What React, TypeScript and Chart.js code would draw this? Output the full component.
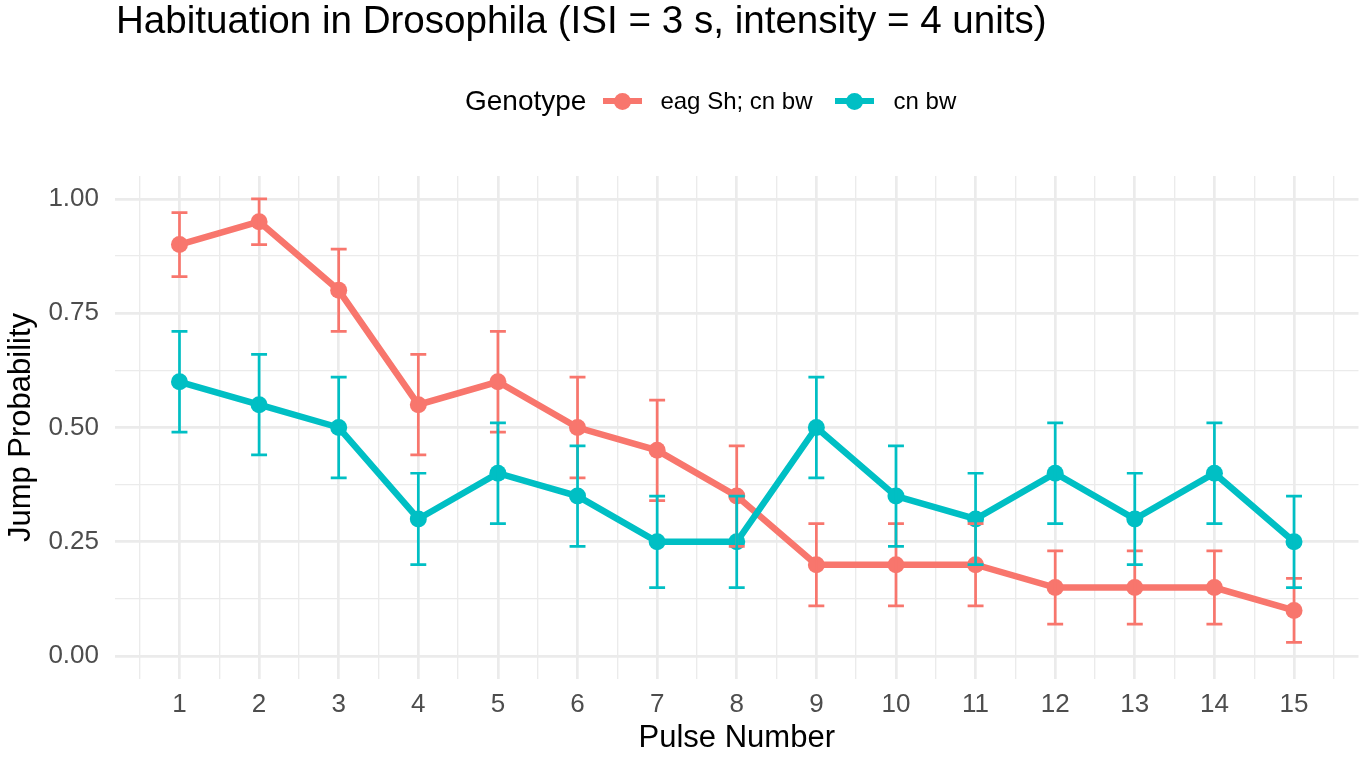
import { useEffect, useRef } from 'react'
import { Chart, ChartConfiguration, registerables } from 'chart.js'

Chart.register(...registerables)

// Data
const pulses = [1, 2, 3, 4, 5, 6, 7, 8, 9, 10, 11, 12, 13, 14, 15]
const genotypes = ['eag Sh; cn bw', 'cn bw']

const eagShMean = [0.90, 0.95, 0.80, 0.55, 0.60, 0.50, 0.45, 0.35, 0.20, 0.20, 0.20, 0.15, 0.15, 0.15, 0.10]
const eagShLower = [0.83, 0.90, 0.71, 0.44, 0.49, 0.39, 0.34, 0.24, 0.11, 0.11, 0.11, 0.07, 0.07, 0.07, 0.03]
const eagShUpper = [0.97, 1.00, 0.89, 0.66, 0.71, 0.61, 0.56, 0.46, 0.29, 0.29, 0.29, 0.23, 0.23, 0.23, 0.17]

const cnBwMean = [0.60, 0.55, 0.50, 0.30, 0.40, 0.35, 0.25, 0.25, 0.50, 0.35, 0.30, 0.40, 0.30, 0.40, 0.25]
const cnBwLower = [0.49, 0.44, 0.39, 0.20, 0.29, 0.24, 0.15, 0.15, 0.39, 0.24, 0.20, 0.29, 0.20, 0.29, 0.15]
const cnBwUpper = [0.71, 0.66, 0.61, 0.40, 0.51, 0.46, 0.35, 0.35, 0.61, 0.46, 0.40, 0.51, 0.40, 0.51, 0.35]

const yTickValues = [0, 0.25, 0.5, 0.75, 1]

const RED = '#F8766D'
const TEAL = '#00BFC4'
const GRID = '#EBEBEB'
const FONT = '"Liberation Sans", Arial, Helvetica, sans-serif'

// major + minor (half-way) grid positions
const xGridValues = [pulses[0] - 0.5, ...pulses.flatMap(p => [p, p + 0.5])]
const yGridValues = [
  ...yTickValues.slice(0, -1).flatMap((v, i) => [v, (v + yTickValues[i + 1]) / 2]),
  yTickValues[yTickValues.length - 1],
]

const errorBarPlugin = {
  id: 'errorBars',
  afterDatasetsDraw(chart: Chart) {
    const { ctx } = chart
    const x = chart.scales.x
    const y = chart.scales.y
    const groups = [
      { lower: eagShLower, upper: eagShUpper, color: RED },
      { lower: cnBwLower, upper: cnBwUpper, color: TEAL },
    ]
    ctx.save()
    ctx.lineWidth = 2.7
    ctx.lineCap = 'butt'
    groups.forEach(g => {
      ctx.strokeStyle = g.color
      pulses.forEach((p, i) => {
        const cx = x.getPixelForValue(p)
        const x0 = x.getPixelForValue(p - 0.1)
        const x1 = x.getPixelForValue(p + 0.1)
        const yl = y.getPixelForValue(g.lower[i])
        const yu = y.getPixelForValue(g.upper[i])
        ctx.beginPath()
        ctx.moveTo(cx, yu)
        ctx.lineTo(cx, yl)
        ctx.moveTo(x0, yu)
        ctx.lineTo(x1, yu)
        ctx.moveTo(x0, yl)
        ctx.lineTo(x1, yl)
        ctx.stroke()
      })
    })
    ctx.restore()
  },
}

function LegendKey({ color }: { color: string }) {
  return (
    <div style={{ position: 'relative', width: 39, height: 17 }}>
      <div style={{ position: 'absolute', left: 0, top: 5.25, width: 39, height: 6.5, background: color }} />
      <div style={{ position: 'absolute', left: 11, top: 0, width: 17, height: 17, borderRadius: '50%', background: color }} />
    </div>
  )
}

export default function App() {
  const canvasRef = useRef<HTMLCanvasElement>(null)
  const chartRef = useRef<Chart | null>(null)

  useEffect(() => {
    if (!canvasRef.current) return
    const ctx = canvasRef.current.getContext('2d')
    if (!ctx) return

    const lineStyle = (color: string) => ({
      borderColor: color,
      backgroundColor: color,
      borderWidth: 6.5,
      tension: 0,
      pointRadius: 8.5,
      pointBorderWidth: 0,
      pointBackgroundColor: color,
      pointBorderColor: color,
      fill: false,
    })

    const config: ChartConfiguration = {
      type: 'line',
      data: {
        datasets: [
          {
            label: genotypes[0],
            data: pulses.map((p, i) => ({ x: p, y: eagShMean[i] })),
            order: 2,
            ...lineStyle(RED),
          },
          {
            label: genotypes[1],
            data: pulses.map((p, i) => ({ x: p, y: cnBwMean[i] })),
            order: 1,
            ...lineStyle(TEAL),
          },
        ],
      },
      options: {
        responsive: true,
        maintainAspectRatio: false,
        animation: false,
        layout: { padding: { top: 176, right: 5, bottom: 0, left: 0 } },
        plugins: {
          legend: { display: false },
          tooltip: { enabled: false },
        },
        scales: {
          x: {
            type: 'linear',
            min: 0.19,
            max: 15.81,
            afterBuildTicks: (scale: any) => {
              scale.ticks = xGridValues.map(v => ({ value: v }))
            },
            afterFit: (scale: any) => {
              scale.height = 78
            },
            grid: {
              color: GRID,
              lineWidth: (c: any) => (Number.isInteger(c.tick?.value) ? 2.7 : 1.35),
              drawTicks: false,
            },
            border: { display: false },
            ticks: {
              autoSkip: false,
              maxRotation: 0,
              padding: 5,
              color: '#4D4D4D',
              font: { family: FONT, size: 26, lineHeight: 1.585 },
              callback: (v: any) => (Number.isInteger(v) ? String(v) : ''),
            },
            title: {
              display: true,
              text: 'Pulse Number',
              color: '#000000',
              font: { family: FONT, size: 31 },
              padding: { top: 0, bottom: 0 },
            },
          },
          y: {
            type: 'linear',
            min: -0.05,
            max: 1.05,
            afterBuildTicks: (scale: any) => {
              scale.ticks = yGridValues.map(v => ({ value: v }))
            },
            afterFit: (scale: any) => {
              scale.width = 115
            },
            grid: {
              color: GRID,
              lineWidth: (c: any) => (yTickValues.includes(c.tick?.value) ? 2.7 : 1.35),
              drawTicks: false,
            },
            border: { display: false },
            ticks: {
              autoSkip: false,
              padding: 16,
              color: '#4D4D4D',
              font: { family: FONT, size: 26 },
              callback: (v: any) => (yTickValues.includes(v) ? Number(v).toFixed(2) : ''),
            },
            title: {
              display: true,
              text: 'Jump Probability',
              color: '#000000',
              font: { family: FONT, size: 31 },
              padding: { top: 3, bottom: 0 },
            },
          },
        },
      },
      plugins: [errorBarPlugin],
    }

    chartRef.current = new Chart(ctx, config)

    return () => {
      if (chartRef.current) {
        chartRef.current.destroy()
        chartRef.current = null
      }
    }
  }, [])

  return (
    <div
      style={{
        position: 'fixed',
        left: 0,
        top: 0,
        width: 1363,
        height: 757,
        background: '#ffffff',
        fontFamily: FONT,
        overflow: 'hidden',
      }}
    >
      {/* canvas is a few px wider than the window so the panel reaches the right edge like the reference */}
      <div style={{ position: 'absolute', left: 0, top: 0, width: 1367, height: 757 }}>
        <canvas ref={canvasRef} />
      </div>
      <div
        style={{
          position: 'absolute',
          left: 116,
          top: 0,
          fontSize: 38.6,
          lineHeight: '39px',
          color: '#000000',
          whiteSpace: 'nowrap',
        }}
      >
        Habituation in Drosophila (ISI = 3 s, intensity = 4 units)
      </div>
      <div
        style={{
          position: 'absolute',
          left: 465,
          top: 86,
          height: 30,
          display: 'flex',
          alignItems: 'center',
          whiteSpace: 'nowrap',
          color: '#000000',
        }}
      >
        <span style={{ fontSize: 28, lineHeight: '28px', marginRight: 17 }}>Genotype</span>
        <LegendKey color={RED} />
        <span style={{ fontSize: 24, lineHeight: '24px', marginLeft: 18, marginRight: 22 }}>{genotypes[0]}</span>
        <LegendKey color={TEAL} />
        <span style={{ fontSize: 24, lineHeight: '24px', marginLeft: 20 }}>{genotypes[1]}</span>
      </div>
    </div>
  )
}
